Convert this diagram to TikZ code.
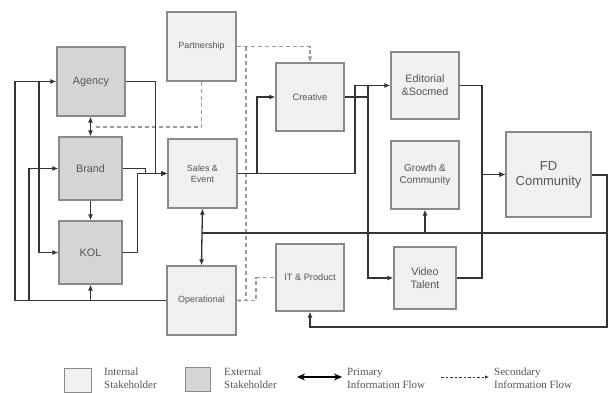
\documentclass[tikz,border=0pt]{standalone}
\usepackage{fontspec}
\setmainfont{Liberation Sans}
\newfontfamily\legfont{Liberation Serif}
\usetikzlibrary{arrows.meta}
\definecolor{intfill}{HTML}{F0F0F0}
\definecolor{extfill}{HTML}{D5D5D5}
\definecolor{boxline}{HTML}{8A8A8A}
\definecolor{txt}{HTML}{555555}
\definecolor{flowc}{HTML}{333333}
\definecolor{secc}{HTML}{9A9A9A}
\begin{document}
\begin{tikzpicture}[x=1pt,y=-1pt,
  box/.style={draw=boxline, line width=1.2pt, text=txt, align=center, inner sep=1pt},
  intbox/.style={box, fill=intfill},
  extbox/.style={box, fill=extfill},
  tip/.style={-{Latex[length=6pt,width=5pt]}},
  flowline/.style={draw=flowc, line width=1.3pt},
  flow/.style={flowline, tip},
  thickflow/.style={draw=flowc, line width=2pt},
  sec/.style={draw=secc, line width=1.1pt, dash pattern=on 4pt off 3pt},
  legtext/.style={text=txt, align=left, anchor=west, inner sep=0pt, font=\legfont\fontsize{11}{13}\selectfont},
]
\useasboundingbox (0,0) rectangle (613,392);

% ---------- boxes ----------
\node[intbox, minimum width=69pt, minimum height=69pt, font=\fontsize{9}{11}\selectfont] (partner) at (201.5,46.5) {Partnership};
\node[extbox, minimum width=68pt, minimum height=69pt, font=\fontsize{10.8}{13}\selectfont] (agency) at (91,81.5) {Agency};
\node[extbox, minimum width=63pt, minimum height=63pt, font=\fontsize{10.8}{13}\selectfont] (brand) at (90.5,168.5) {Brand};
\node[extbox, minimum width=63pt, minimum height=63pt, font=\fontsize{10.8}{13}\selectfont] (kol) at (90.5,252.5) {KOL};
\node[intbox, minimum width=69pt, minimum height=69pt, font=\fontsize{9}{11}\selectfont] (sales) at (202.5,173.5) {Sales \&\\Event};
\node[intbox, minimum width=69pt, minimum height=69pt, font=\fontsize{9}{11}\selectfont] (oper) at (201.5,300.5) {Operational};
\node[intbox, minimum width=68pt, minimum height=68pt, font=\fontsize{9.3}{11}\selectfont] (creative) at (310,97) {Creative};
\node[intbox, minimum width=68pt, minimum height=67pt, font=\fontsize{9.2}{11}\selectfont] (it) at (310,277.5) {IT \& Product};
\node[intbox, minimum width=68pt, minimum height=67pt, font=\fontsize{10.8}{13}\selectfont] (edit) at (425,85.5) {Editorial\\\&Socmed};
\node[intbox, minimum width=68pt, minimum height=68pt, font=\fontsize{10}{12}\selectfont] (growth) at (425,175) {Growth \&\\Community};
\node[intbox, minimum width=62pt, minimum height=62pt, font=\fontsize{10.8}{13}\selectfont] (video) at (425,278) {Video\\Talent};
\node[intbox, minimum width=85pt, minimum height=85pt, font=\fontsize{13}{15}\selectfont] (fd) at (548.5,174.5) {FD\\Community};

% ---------- junction coordinates ----------
\coordinate (outerA) at (15,300.5);
\coordinate (outerB) at (29,300.5);
\coordinate (innerK) at (39,81.5);
\coordinate (bus) at (202,233);
\coordinate (busR) at (607,233);
\coordinate (dashJ) at (246,46.5);
\coordinate (crossC) at (368,97);

% ---------- secondary (dashed) flows ----------
\draw[sec] (partner.south) -- (201.5,127) -- (95,127);
\draw[sec, tip] (partner.east) -| (creative.north);
\draw[sec, -{Latex[length=4pt,width=3.5pt]}] (dashJ) -- (246,300.5) -- (oper.east);
\draw[sec] (oper.east) -- (256,300.5) |- (it.west);

% ---------- primary flows: left cluster ----------
\draw[flow] (agency.east) -- ++(30,0) |- (sales.west);
\draw[flow] (brand.east) -- ++(23,0) |- (sales.west);
\draw[flow] (kol.east) -- ++(15,0) |- (sales.west);
\draw[flowline, {Latex[length=6pt,width=5pt]}-{Latex[length=6pt,width=5pt]}] (brand.north) -- (brand.north |- agency.south);
\draw[flow] (brand.south) -- (kol.north);
\draw[flow] (oper.west) -- (outerA) |- (agency.west);
\draw[flow] (outerB) |- (brand.west);
\draw[flow] (kol.south |- oper.west) -- (kol.south);
\draw[flow] (innerK) |- (kol.west);

% ---------- primary flows: middle ----------
\draw[flow] (sales.east) -- (257,173.5) |- (creative.west);
\draw[flow] (sales.east) -- (355,173.5) |- (edit.west);
\draw[flowline] (creative.east) -- (crossC) -- (368,85.5);
\draw[flow] (crossC) |- (video.west);
\draw[flow] (edit.east) -- (482,85.5) |- (fd.west);
\draw[flow] (video.east) -- (482,278) |- (fd.west);

% ---------- FD feedback loop ----------
\draw[thickflow] (fd.east) -| (busR) -- (bus);
\draw[flow] (bus) -- (sales.south);
\draw[flow] (bus) -- (oper.north);
\draw[flow] (growth.south |- bus) -- (growth.south);
\draw[flow] (busR) -- (607,327) -| (it.south);

% ---------- legend ----------
\node[draw=boxline, line width=1pt, fill=intfill, minimum width=27pt, minimum height=24pt, inner sep=0pt] (legint) at (77.5,380) {};
\node[legtext] (legintt) at (104,378.5) {Internal\\Stakeholder};
\node[draw=boxline, line width=1pt, fill=extfill, minimum width=25pt, minimum height=24pt, inner sep=0pt] (legext) at (197.5,379.5) {};
\node[legtext] (legextt) at (224,378) {External\\Stakeholder};
\coordinate (pa) at (297,377);
\coordinate (pb) at (342,377);
\draw[black, line width=1.8pt, {Stealth[length=8pt,width=7pt]}-{Stealth[length=8pt,width=7pt]}] (pa) -- (pb);
\node[legtext] (legprim) at (347,378.5) {Primary\\Information Flow};
\coordinate (sa) at (441,377);
\coordinate (sb) at (489,377);
\draw[flowc, line width=0.8pt, dash pattern=on 2.5pt off 2pt, -{Latex[length=4pt,width=3.5pt]}] (sa) -- (sb);
\node[legtext] (legsec) at (494,378.5) {Secondary\\Information Flow};
\end{tikzpicture}
\end{document}
